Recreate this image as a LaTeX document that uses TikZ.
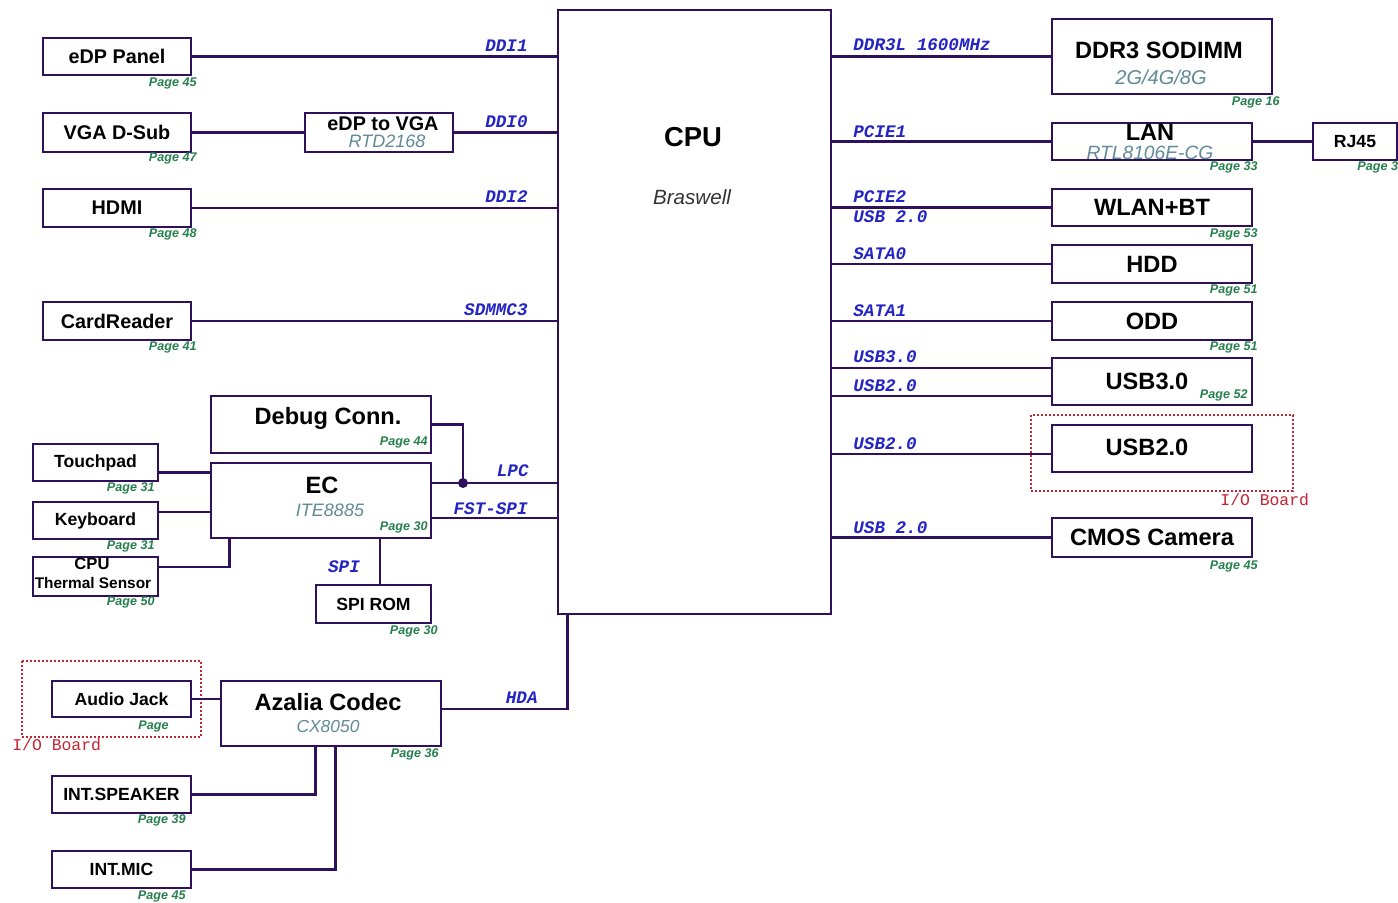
\documentclass[tikz,border=0pt]{standalone}
\usepackage{fontspec}
\setmainfont{Liberation Sans}
\newfontfamily\busfont{Liberation Mono}
\usepackage{tikz}
\usetikzlibrary{calc}

\definecolor{wirec}{RGB}{46,16,92}
\definecolor{busblue}{RGB}{36,36,196}
\definecolor{pggreen}{RGB}{38,128,78}
\definecolor{partteal}{RGB}{96,138,150}
\definecolor{iored}{RGB}{196,36,52}

\tikzset{
  blk/.style={draw=wirec, line width=1.4pt, fill=white, inner sep=0pt},
  wh/.style 2 args={minimum width=#1*0.5pt, minimum height=#2*0.5pt},
  big/.style={font=\bfseries\fontsize{11.8}{14}\selectfont, inner sep=0pt},
  mid/.style={font=\bfseries\fontsize{9.9}{12}\selectfont},
  small/.style={font=\bfseries\fontsize{8.8}{10}\selectfont},
  part/.style={text=partteal, font=\itshape\fontsize{#1}{12}\selectfont, inner sep=0pt},
  bus/.style={text=busblue, font=\busfont\bfseries\itshape\fontsize{8.8}{10}\selectfont, inner sep=0pt},
  pg/.style={text=pggreen, font=\bfseries\itshape\fontsize{6.3}{7}\selectfont, inner sep=0pt, anchor=base east},
  wire/.style={draw=wirec, line width=1.4pt},
  ioboard/.style={draw=iored, line width=1pt, densely dotted},
  iolbl/.style={text=iored, font=\busfont\fontsize{8.2}{9}\selectfont, inner sep=0pt, anchor=base west}
}

\begin{document}
\begin{tikzpicture}[x=0.5pt, y=-0.5pt]
    \clip (0,0) rectangle (1398,902);
    \fill[white] (0,0) rectangle (1398,902);

    % I/O board outlines
    \draw[ioboard] (22,661) rectangle (201,737);
    \draw[ioboard] (1031,415) rectangle (1293,491);
    \node[iolbl] (iol) at (12,750) {I/O Board};
    \node[iolbl] (ior) at (1220,505) {I/O Board};

    % CPU
    \node[blk, wh={273}{604}] (cpu) at (694.5,312) {};
    \node[font=\bfseries\fontsize{13.7}{16}\selectfont, inner sep=0pt] (cputitle) at (693,137) {CPU};
    \node[font=\itshape\fontsize{10.3}{12}\selectfont, text=black!80, inner sep=0pt] (cpusub) at (692,197) {Braswell};

    % Display side
    \node[blk, mid, wh={148}{37}] (edp) at (117,56.5) {eDP Panel};
    \node[blk, mid, wh={148}{39}] (vga) at (117,132.5) {VGA D-Sub};
    \node[blk, wh={148}{39}] (e2v) at (379,132.5) {};
    \node[mid, inner sep=0pt] (e2vtitle) at (383,124) {eDP to VGA};
    \node[part=9] (e2vsub) at (387,141) {RTD2168};
    \node[blk, mid, wh={148}{38}] (hdmi) at (117,208) {HDMI};
    \node[blk, mid, wh={148}{38}] (card) at (117,321) {CardReader};

    % EC block
    \node[blk, wh={220}{57}] (debug) at (321,424.5) {};
    \node[big] (debugtitle) at (328,418) {Debug Conn.};
    \node[blk, wh={220}{75}] (ec) at (321,500.5) {};
    \node[big] (ectitle) at (322,485) {EC};
    \node[part=9] (ecsub) at (330,510) {ITE8885};
    \node[blk, small, wh={125}{37}] (touch) at (95.5,462.5) {Touchpad};
    \node[blk, small, wh={125}{37}] (kbd) at (95.5,520.5) {Keyboard};
    \node[blk, wh={125}{39}] (therm) at (95.5,576.5) {};
    \node[font=\bfseries\fontsize{8.3}{10}\selectfont, inner sep=0pt] (thermtop) at (92,564) {CPU};
    \node[font=\bfseries\fontsize{7.7}{9}\selectfont, inner sep=0pt] (thermbot) at (93,583) {Thermal Sensor};
    \node[blk, small, wh={115}{38}] (spirom) at (373.5,604) {SPI ROM};

    % Audio
    \node[blk, small, wh={139}{36}] (audio) at (121.5,699) {Audio Jack};
    \node[blk, wh={220}{65}] (azalia) at (331,713.5) {};
    \node[big] (azaliatitle) at (328,702) {Azalia Codec};
    \node[part=8.7] (azaliasub) at (328,726) {CX8050};
    \node[blk, small, wh={139}{37}] (spk) at (121.5,794.5) {INT.SPEAKER};
    \node[blk, small, wh={139}{37}] (mic) at (121.5,869.5) {INT.MIC};

    % Right side
    \node[blk, wh={220}{75}] (ddr) at (1162,56.5) {};
    \node[big] (ddrtitle) at (1159,50) {DDR3 SODIMM};
    \node[part=10] (ddrsub) at (1161,77) {2G/4G/8G};
    \node[blk, wh={200}{37}] (lan) at (1152,141.5) {};
    \node[big] (lantitle) at (1150,132) {LAN};
    \node[part=9.6] (lansub) at (1150,153) {RTL8106E-CG};
    \node[blk, small, wh={84}{37}] (rj) at (1355,141.5) {RJ45};
    \node[blk, big, wh={200}{37}] (wlan) at (1152,207.5) {WLAN+BT};
    \node[blk, big, wh={200}{38}] (hdd) at (1152,264) {HDD};
    \node[blk, big, wh={200}{38}] (odd) at (1152,321) {ODD};
    \node[blk, wh={200}{47}] (usbthree) at (1152,381.5) {};
    \node[big] (usbthreetitle) at (1147,381) {USB3.0};
    \node[blk, wh={200}{47}] (usbtwo) at (1152,448.5) {};
    \node[big] (usbtwotitle) at (1147,447) {USB2.0};
    \node[blk, big, wh={200}{39}] (cmos) at (1152,537.5) {CMOS Camera};

    % Wires, left
    \draw[wire] (edp.east) -- (edp.east -| cpu.west);
    \draw[wire] (vga.east) -- (e2v.west);
    \draw[wire] (e2v.east) -- (e2v.east -| cpu.west);
    \draw[wire] (hdmi.east) -- (hdmi.east -| cpu.west);
    \draw[wire] (card.east) -- (card.east -| cpu.west);
    \coordinate (lpcdot) at (463,483);
    \draw[wire] (debug.east) -| (lpcdot);
    \draw[wire] (ec.east |- lpcdot) -- (lpcdot -| cpu.west);
    \fill[wirec] (lpcdot) circle (5);
    \draw[wire] ([yshift=-8.75pt]ec.east) -- ([yshift=-8.75pt]ec.east -| cpu.west);
    \draw[wire] ([yshift=-5pt]touch.east) -- ([yshift=-5pt]touch.east -| ec.west);
    \draw[wire] ([yshift=4.25pt]kbd.east) -- ([yshift=4.25pt]kbd.east -| ec.west);
    \draw[wire] ([yshift=4.75pt]therm.east) -| ([xshift=10pt]ec.south west);
    \draw[wire] ([xshift=29.5pt]ec.south) -- ([xshift=29.5pt]ec.south |- spirom.north);
    \draw[wire] (audio.east) -- (audio.east -| azalia.west);
    \draw[wire] ([yshift=2.25pt]azalia.east) -| ([xshift=5.5pt]cpu.south west);
    \draw[wire] (spk.east) -| ([xshift=48pt]azalia.south west);
    \draw[wire] (mic.east) -| ([xshift=58pt]azalia.south west);

    % Wires, right
    \draw[wire] (ddr.west -| cpu.east) -- (ddr.west);
    \draw[wire] (lan.west -| cpu.east) -- (lan.west);
    \draw[wire] (lan.east) -- (rj.west);
    \draw[wire] (wlan.west -| cpu.east) -- (wlan.west);
    \draw[wire] (hdd.west -| cpu.east) -- (hdd.west);
    \draw[wire] (odd.west -| cpu.east) -- (odd.west);
    \draw[wire] ([yshift=6.75pt]usbthree.west -| cpu.east) -- ([yshift=6.75pt]usbthree.west);
    \draw[wire] ([yshift=-7.25pt]usbthree.west -| cpu.east) -- ([yshift=-7.25pt]usbthree.west);
    \draw[wire] ([yshift=-2.75pt]usbtwo.west -| cpu.east) -- ([yshift=-2.75pt]usbtwo.west);
    \draw[wire] (cmos.west -| cpu.east) -- (cmos.west);

    % Bus names
    \node[bus, anchor=base east] (bddia) at (528,51) {DDI1};
    \node[bus, anchor=base east] (bddib) at (528,127) {DDI0};
    \node[bus, anchor=base east] (bddic) at (528,202) {DDI2};
    \node[bus, anchor=base east] (bsd) at (528,315) {SDMMC3};
    \node[bus, anchor=base east] (blpc) at (529,476) {LPC};
    \node[bus, anchor=base east] (bfst) at (528,514) {FST-SPI};
    \node[bus, anchor=base] (bspi) at (344,572) {SPI};
    \node[bus, anchor=base east] (bhda) at (538,703) {HDA};
    \node[bus, anchor=base west] (bddr) at (853,50) {DDR3L 1600MHz};
    \node[bus, anchor=base west] (bpa) at (853,137) {PCIE1};
    \node[bus, anchor=base west] (bpb) at (853,202) {PCIE2};
    \node[bus, anchor=base west] (bwu) at (853,222) {USB 2.0};
    \node[bus, anchor=base west] (bsa) at (853,259) {SATA0};
    \node[bus, anchor=base west] (bsb) at (853,316) {SATA1};
    \node[bus, anchor=base west] (bua) at (853,362) {USB3.0};
    \node[bus, anchor=base west] (bub) at (853,391) {USB2.0};
    \node[bus, anchor=base west] (buc) at (853,449) {USB2.0};
    \node[bus, anchor=base west] (bud) at (853,533) {USB 2.0};

    % Page references
    \node[pg] (p1) at (197,86) {Page 45};
    \node[pg] (p2) at (197,161) {Page 47};
    \node[pg] (p3) at (197,237) {Page 48};
    \node[pg] (p4) at (197,350) {Page 41};
    \node[pg] (p5) at (155,491) {Page 31};
    \node[pg] (p6) at (155,549) {Page 31};
    \node[pg] (p7) at (155,605) {Page 50};
    \node[pg] (p8) at (428,445) {Page 44};
    \node[pg] (p9) at (428,530) {Page 30};
    \node[pg] (p10) at (438,634) {Page 30};
    \node[pg] (p11) at (169,729) {Page};
    \node[pg] (p12) at (439,757) {Page 36};
    \node[pg] (p13) at (186,823) {Page 39};
    \node[pg] (p14) at (186,899) {Page 45};
    \node[pg] (p15) at (1280,105) {Page 16};
    \node[pg] (p16) at (1258,170) {Page 33};
    \node[pg, anchor=base west] (p17) at (1357,170) {Page 3};
    \node[pg] (p18) at (1258,237) {Page 53};
    \node[pg] (p19) at (1258,293) {Page 51};
    \node[pg] (p20) at (1258,350) {Page 51};
    \node[pg] (p21) at (1248,398) {Page 52};
    \node[pg] (p22) at (1258,569) {Page 45};
\end{tikzpicture}
\end{document}
